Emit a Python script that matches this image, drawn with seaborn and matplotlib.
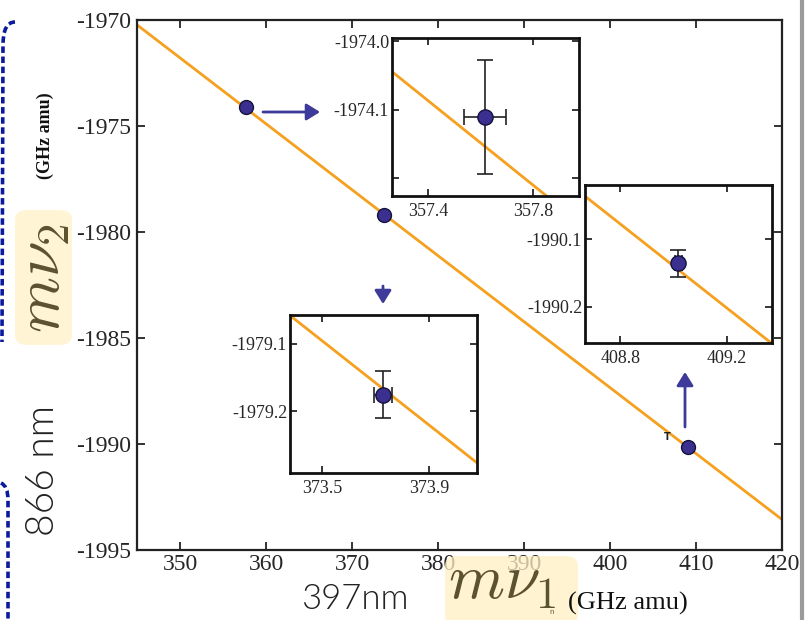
import matplotlib
matplotlib.use("Agg")
import matplotlib.pyplot as plt
import seaborn as sns
import numpy as np
import pandas as pd
from matplotlib.patches import FancyArrowPatch, PathPatch, FancyBboxPatch
from matplotlib.path import Path
from matplotlib.lines import Line2D
from matplotlib.ticker import FixedLocator, FixedFormatter

# ---------------- data ----------------
pt_x = [357.617, 373.729, 409.019]
pt_y = [-1974.111, -1979.175, -1990.136]
x_err = [0.079, 0.034, 0.012]
y_err = [0.083, 0.035, 0.020]
fit_x = [345.0, 420.0]
fit_y = [-1970.229, -1993.562]

main_xticks = [350, 360, 370, 380, 390, 400, 410, 420]
main_yticks = [-1995, -1990, -1985, -1980, -1975, -1970]

inset_xlims = [(357.264, 357.974), (373.38, 374.08), (408.668, 409.37)]
inset_ylims = [(-1974.227, -1973.995), (-1979.291, -1979.0575), (-1990.254, -1990.02)]
inset_xticks = [[357.4, 357.8], [373.5, 373.9], [408.8, 409.2]]
inset_xlabels = [["357.4", "357.8"], ["373.5", "373.9"], ["408.8", "409.2"]]
inset_yticks = [[-1974.2, -1974.1, -1974.0], [-1979.2, -1979.1], [-1990.2, -1990.1]]
inset_ylabels = [["", "-1974.1", "-1974.0"], ["-1979.2", "-1979.1"], ["-1990.2", "-1990.1"]]

# ---------------- style ----------------
sns.set_theme(style="ticks")
plt.rcParams.update({
    "font.family": ["Liberation Serif", "DejaVu Serif"],
    "mathtext.fontset": "cm",
    "axes.unicode_minus": False,
    "xtick.direction": "in",
    "ytick.direction": "in",
    "xtick.top": True,
    "ytick.right": True,
})

ORANGE = "#f5a01e"
PURPLE = "#3b2f8f"
EDGE = "#15123a"
ARROW = "#3d3a9a"
W, H = 812, 620

fig = plt.figure(figsize=(W / 100, H / 100), dpi=100)
fig.patch.set_facecolor("white")


def fbox(x0, y0, x1, y1):
    """pixel box (top-left origin) -> figure rect"""
    return [x0 / W, 1 - y1 / H, (x1 - x0) / W, (y1 - y0) / H]


def fpt(x, y):
    return (x / W, 1 - y / H)


# ---------------- main axes ----------------
ax = fig.add_axes(fbox(137, 20, 782, 550))
sns.lineplot(x=fit_x, y=fit_y, ax=ax, color=ORANGE, lw=2, zorder=2)
sns.scatterplot(x=pt_x, y=pt_y, ax=ax, s=100, color=PURPLE, edgecolor=EDGE,
                linewidth=1, zorder=5, legend=False)
ax.set_xlim(345, 420)
ax.set_ylim(-1995, -1970)
ax.set_xticks(main_xticks)
ax.set_yticks(main_yticks)
ax.set_xticklabels([str(v) for v in main_xticks])
ax.set_yticklabels([str(v) for v in main_yticks])
ax.tick_params(axis="both", labelsize=17, length=6, width=1.3, color="#222222")
ax.tick_params(axis="x", pad=3)
ax.tick_params(axis="y", pad=4)
for sp in ax.spines.values():
    sp.set_linewidth(1.6)
    sp.set_color("#222222")
ax.set_xlabel("")
ax.set_ylabel("")

# ---------------- insets ----------------
inset_boxes = [(392, 38, 579, 196), (290, 315, 477, 473), (585, 185, 772, 343)]
for i, bx in enumerate(inset_boxes):
    ai = fig.add_axes(fbox(*bx))
    ai.set_facecolor("white")
    sns.lineplot(x=fit_x, y=fit_y, ax=ai, color=ORANGE, lw=2, zorder=2)
    ai.errorbar([pt_x[i]], [pt_y[i]], xerr=[x_err[i]], yerr=[y_err[i]],
                fmt="none", ecolor="#222222", elinewidth=1.2, capsize=5.5,
                capthick=1.2, zorder=3)
    sns.scatterplot(x=[pt_x[i]], y=[pt_y[i]], ax=ai, s=120, color=PURPLE,
                    edgecolor=EDGE, linewidth=1, zorder=5, legend=False)
    ai.set_xlim(*inset_xlims[i])
    ai.set_ylim(*inset_ylims[i])
    ai.xaxis.set_major_locator(FixedLocator(inset_xticks[i]))
    ai.xaxis.set_major_formatter(FixedFormatter(inset_xlabels[i]))
    ai.yaxis.set_major_locator(FixedLocator(inset_yticks[i]))
    ai.yaxis.set_major_formatter(FixedFormatter(inset_ylabels[i]))
    ai.tick_params(axis="both", labelsize=13, length=5, width=1.3)
    ai.tick_params(axis="x", pad=5)
    ai.tick_params(axis="y", pad=2)
    for sp in ai.spines.values():
        sp.set_linewidth(2)
        sp.set_color("#111111")
    ai.set_xlabel("")
    ai.set_ylabel("")

# ---------------- arrows ----------------
for (x0, y0), (x1, y1) in [((263, 112), (320, 112)),
                           ((383, 286), (383, 304)),
                           ((685, 427), (685, 372))]:
    fig.add_artist(FancyArrowPatch(fpt(x0, y0), fpt(x1, y1),
                                   transform=fig.transFigure,
                                   arrowstyle="-|>,head_length=0.45,head_width=0.28",
                                   mutation_scale=18, lw=2, color=ARROW,
                                   shrinkA=0, shrinkB=0))

fig.text(*fpt(667, 437), "T", fontsize=7, family="DejaVu Sans",
         fontweight="bold", color="#222222", ha="center", va="center")

# ---------------- labels ----------------
fig.text(*fpt(45, 136), "(GHz amu)", rotation=90, fontsize=13,
         fontweight="bold", ha="center", va="center", color="#111111")

# m nu_2 highlight box
fig.add_artist(FancyBboxPatch(fpt(15, 345), (72 - 15) / W, (345 - 210) / H,
                              boxstyle="round,pad=0,rounding_size=0.015",
                              transform=fig.transFigure, fc="#fff4d2",
                              ec="none", alpha=0.95, zorder=1))
fig.text(*fpt(44, 278), r"$m\nu_2$", rotation=90, fontsize=46,
         color="#5b5230", ha="center", va="center", zorder=4)

fig.text(*fpt(43, 470), "866 nm", rotation=90, fontsize=28,
         family=["Lato", "DejaVu Sans"], fontweight=300,
         color="#222222", ha="center", va="center")

# m nu_1 highlight box
fig.add_artist(FancyBboxPatch(fpt(445, 625), (578 - 445) / W, (625 - 556) / H,
                              boxstyle="round,pad=0,rounding_size=0.015",
                              transform=fig.transFigure, fc="#fff0c4",
                              ec="none", alpha=0.75, zorder=1))
fig.text(*fpt(448, 598), r"$m\nu_1$", fontsize=46, color="#5b5230",
         ha="left", va="baseline", zorder=4)
fig.text(*fpt(552, 614), "n", fontsize=5, color="#5b5230",
         family="DejaVu Sans", ha="center", va="baseline", zorder=4)
fig.text(*fpt(568, 603), "(GHz amu)", fontsize=19, color="#111111",
         ha="left", va="center")

fig.text(*fpt(355, 599), "397nm", fontsize=25,
         family=["Lato", "DejaVu Sans"], fontweight=300,
         color="#222222", ha="center", va="center")

# ---------------- decorations ----------------
fig.add_artist(Line2D([802 / W, 802 / W], [0, 1], transform=fig.transFigure,
                      lw=3, color="#9b9b9b"))


def pix_path(pts, codes):
    return Path([fpt(x, y) for x, y in pts], codes)


p1 = pix_path([(15, 22), (3, 22), (3, 45), (2, 342)],
              [Path.MOVETO, Path.CURVE3, Path.CURVE3, Path.LINETO])
p2 = pix_path([(1, 483), (8, 486), (8, 500), (8, 620)],
              [Path.MOVETO, Path.CURVE3, Path.CURVE3, Path.LINETO])
for p in (p1, p2):
    fig.add_artist(PathPatch(p, transform=fig.transFigure, fill=False,
                             ec="#0b1a9c", lw=2.6, linestyle=(0, (1.8, 1.0))))

fig.savefig("out.png", dpi=100)
